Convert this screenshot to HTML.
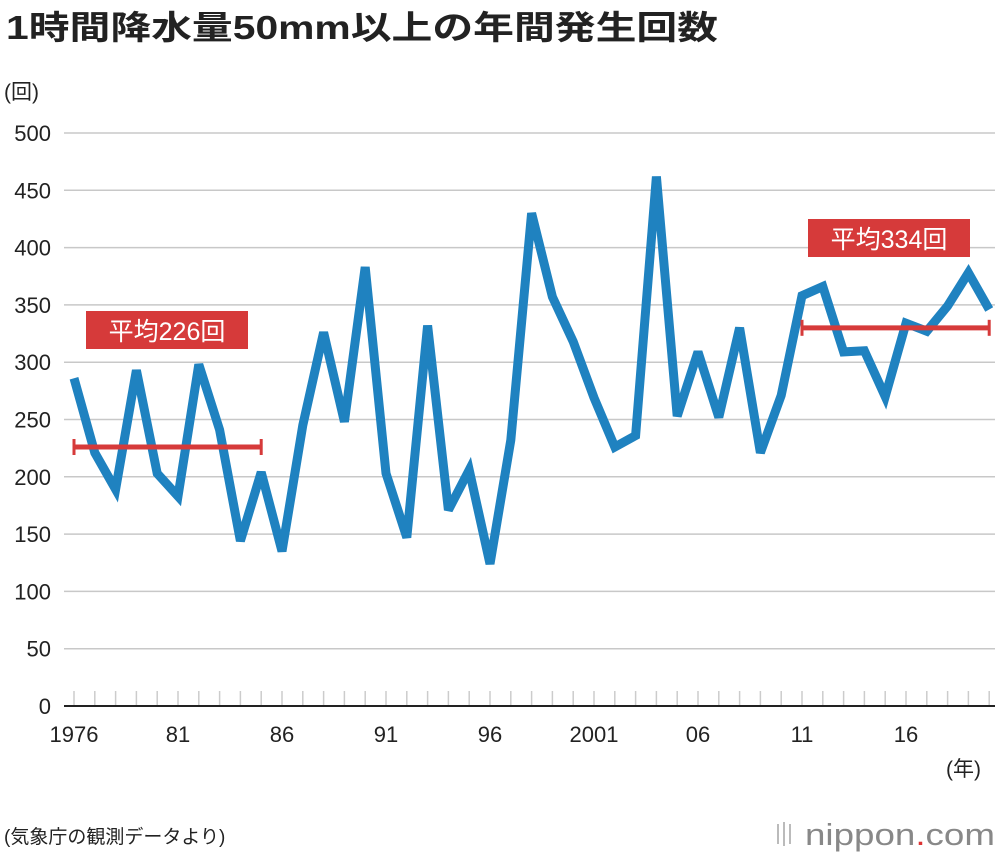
<!DOCTYPE html>
<html><head><meta charset="utf-8"><style>
body{margin:0;background:#fff;width:1000px;height:856px;overflow:hidden;font-family:"Liberation Sans","Noto Sans CJK JP",sans-serif}
</style></head><body>
<svg id="chart" width="1000" height="856" style="position:absolute;left:0;top:0">
<text x="6" y="39" font-size="33" font-weight="bold" fill="#222" textLength="712" lengthAdjust="spacingAndGlyphs">1時間降水量50mm以上の年間発生回数</text>
<text x="4" y="99" font-size="21" fill="#222">(回)</text>
<text x="946" y="776" font-size="21" fill="#222">(年)</text>
<text x="4" y="843" font-size="19" fill="#222">(気象庁の観測データより)</text>
<g id="logo">
<g stroke="#bbb" stroke-width="2"><line x1="778" y1="824" x2="778" y2="844"/><line x1="784" y1="822" x2="784" y2="846"/><line x1="790" y1="824" x2="790" y2="844"/></g>
<text x="805" y="845" font-size="31" fill="#888" textLength="190" lengthAdjust="spacingAndGlyphs">nippon<tspan fill="#d33">.</tspan>com</text>
</g>
<g id="grid"></g><g id="marks"></g>
</svg>
<script>
const years=[];for(let y=1976;y<=2020;y++)years.push(y);
const values=[286,221,189,293,203,183,298,241,144,204,135,245,326,248,383,203,147,332,171,206,124,232,430,357,318,269,226,236,462,253,309,252,330,221,271,358,366,309,310,270,334,327,349,378,346];
const yTicks=[0,50,100,150,200,250,300,350,400,450,500];
const xLabels=["1976","81","86","91","96","2001","06","11","16"];
const xLabelYears=[1976,1981,1986,1991,1996,2001,2006,2011,2016];
const avgStarts=[1976,2011],avgEnds=[1985,2020],avgValues=[226,330],avgLabels=["平均226回","平均334回"];
const NS="http://www.w3.org/2000/svg";
const X=y=>74+(y-1976)*20.8, Y=v=>706-v*1.146;
function mk(t,a,p){const e=document.createElementNS(NS,t);for(const k in a)e.setAttribute(k,a[k]);p.appendChild(e);return e;}
const g=document.getElementById('grid'),m=document.getElementById('marks');
yTicks.forEach(v=>{
 if(v>0){const l=mk('line',{x1:64,x2:995,y1:Y(v),y2:Y(v),stroke:'#c8c8c8','stroke-width':1.5},g);
 
 }
 const t=mk('text',{x:51,y:Y(v)+8,'font-size':22,'text-anchor':'end',fill:'#222'},g);t.textContent=v;
 
 
});
years.forEach(y=>{const l=mk('line',{x1:X(y),x2:X(y),y1:691,y2:705,stroke:'#ccc','stroke-width':1.5},g);
 
 });
const ax=mk('line',{x1:64,x2:995,y1:706,y2:706,stroke:'#222','stroke-width':2},g);


xLabels.forEach((s,i)=>{const t=mk('text',{x:X(xLabelYears[i]),y:742,'font-size':22,'text-anchor':'middle',fill:'#222'},g);t.textContent=s;
 
 });
const pl=mk('polyline',{points:values.map((v,i)=>X(years[i])+','+Y(v)).join(' '),fill:'none',stroke:'#1f82c0','stroke-width':9,'stroke-linejoin':'miter','stroke-miterlimit':3},m);


avgValues.forEach((v,i)=>{
 const x1=X(avgStarts[i]),x2=X(avgEnds[i]),y=Y(v);
 const a=mk('g',{},m);
 
 
 mk('line',{x1,x2,y1:y,y2:y,stroke:'#d63a3a','stroke-width':5},a);
 mk('line',{x1:x1,x2:x1,y1:y-8,y2:y+8,stroke:'#d63a3a','stroke-width':3},a);
 mk('line',{x1:x2,x2:x2,y1:y-8,y2:y+8,stroke:'#d63a3a','stroke-width':3},a);
 const bx=i==0?86:808,by=i==0?311:219;
 const r=mk('rect',{x:bx,y:by,width:162,height:38,fill:'#d63a3a'},m);
 
 
 const t=mk('text',{x:bx+81,y:by+29,'font-size':25,'text-anchor':'middle',fill:'#fff'},m);t.textContent=avgLabels[i];
 
 
});
</script>
</body></html>
